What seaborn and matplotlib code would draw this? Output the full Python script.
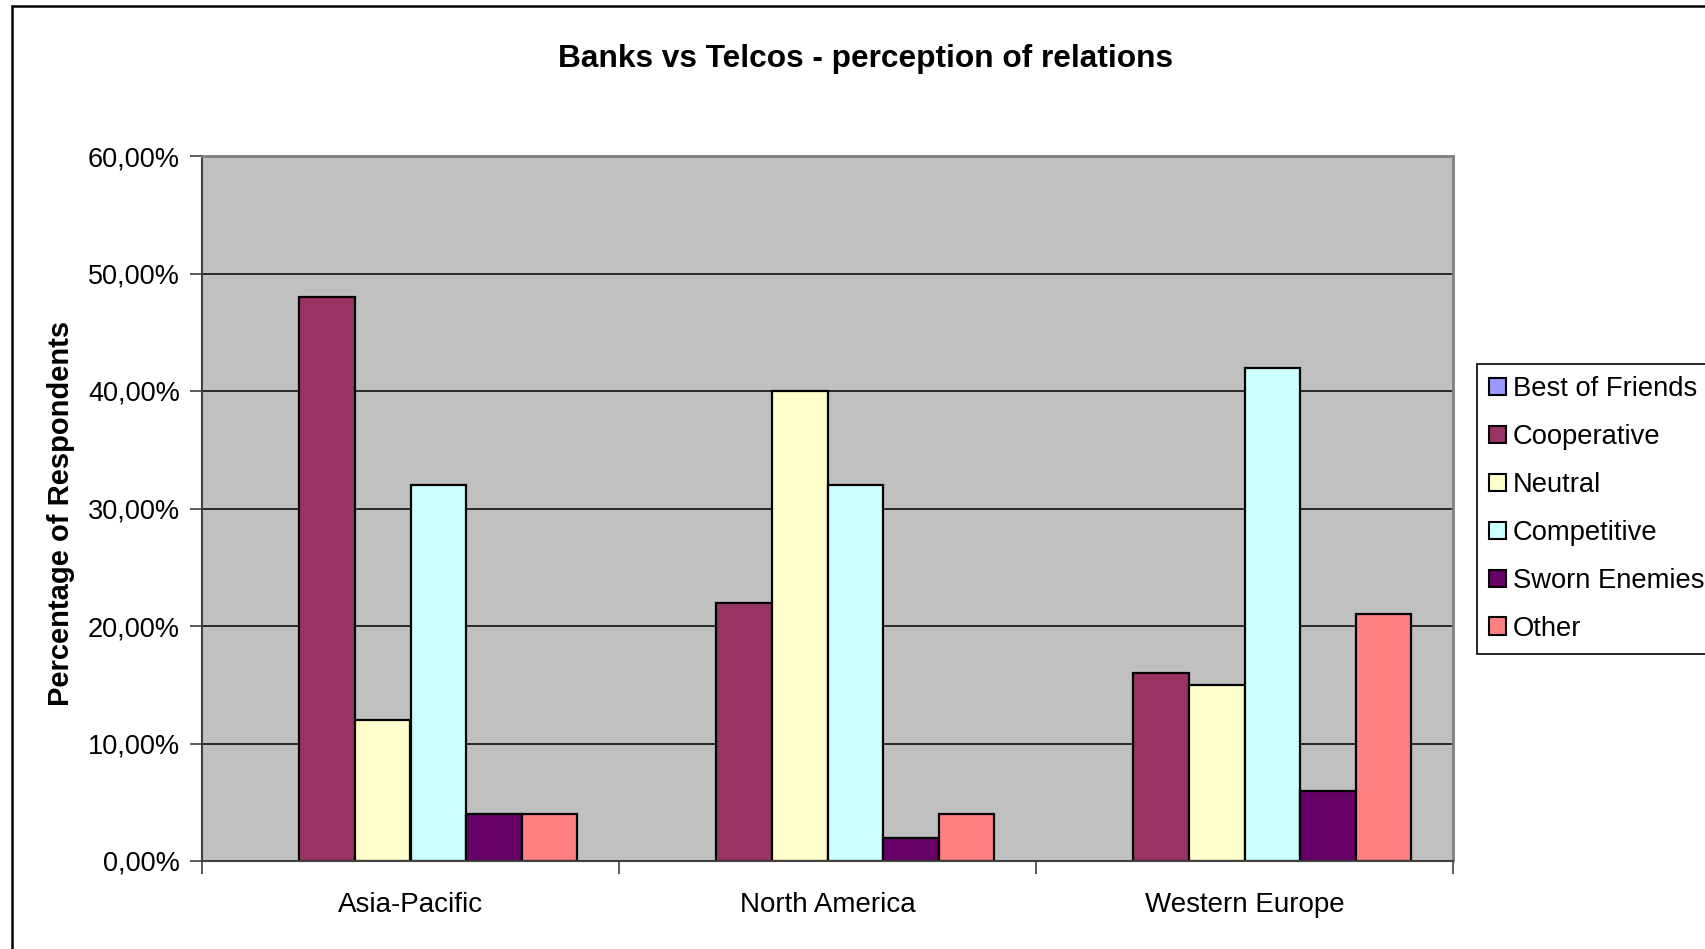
import pandas as pd
import seaborn as sns
import matplotlib.pyplot as plt
from matplotlib.patches import Patch, Rectangle
from matplotlib.ticker import FuncFormatter

# Chart data
regions = ["Asia-Pacific", "North America", "Western Europe"]
relations = ["Best of Friends", "Cooperative", "Neutral", "Competitive", "Sworn Enemies", "Other"]
best_of_friends = [0.00, 0.00, 0.00]
cooperative = [0.48, 0.22, 0.16]
neutral = [0.12, 0.40, 0.15]
competitive = [0.32, 0.32, 0.42]
sworn_enemies = [0.04, 0.02, 0.06]
other = [0.04, 0.04, 0.21]
colors = ["#9999FF", "#993366", "#FFFFCC", "#CCFFFF", "#660066", "#FF8080"]
y_ticks = [0.0, 0.1, 0.2, 0.3, 0.4, 0.5, 0.6]

series = [best_of_friends, cooperative, neutral, competitive, sworn_enemies, other]
rows = []
for rel, vals in zip(relations, series):
    for reg, v in zip(regions, vals):
        rows.append({"region": reg, "relation": rel, "share": v})
df = pd.DataFrame(rows)

plt.rcParams["font.family"] = ["Liberation Sans", "DejaVu Sans"]

fig = plt.figure(figsize=(17.06, 9.49), dpi=100)
ax = fig.add_axes([202 / 1706, 1 - 861 / 949, 1251 / 1706, 705 / 949])

sns.barplot(
    data=df, x="region", y="share", hue="relation",
    order=regions, hue_order=relations, palette=colors,
    errorbar=None, width=0.8, gap=0, saturation=1,
    edgecolor="black", linewidth=1.6, legend=False, ax=ax
)

# hide outlines of empty bars
for p in ax.patches:
    if p.get_height() == 0:
        p.set_linewidth(0)

ax.set_facecolor("#C0C0C0")
ax.set_ylim(0, 0.6)
ax.set_xlim(-0.5, 2.5)
ax.set_yticks(y_ticks)
ax.yaxis.set_major_formatter(FuncFormatter(lambda v, _: f"{v * 100:.2f}%".replace(".", ",")))
ax.yaxis.grid(True, color="black", linewidth=1.1)
ax.set_axisbelow(True)

ax.set_xlabel("")
ax.set_ylabel("")
ax.tick_params(axis="y", length=9, width=1.2, color="#404040", pad=7, labelsize=19.5)
ax.tick_params(axis="x", which="major", length=0, pad=22, labelsize=20)
ax.set_xticks([-0.5, 0.5, 1.5, 2.5], minor=True)
ax.tick_params(axis="x", which="minor", length=9, width=1.2, color="#404040")

for side in ["left", "bottom"]:
    ax.spines[side].set_color("#404040")
    ax.spines[side].set_linewidth(1.5)
for side in ["top", "right"]:
    ax.spines[side].set_color("#808080")
    ax.spines[side].set_linewidth(2)

fig.text(866 / 1706, 1 - 59 / 949, "Banks vs Telcos - perception of relations",
         ha="center", va="center", fontsize=22.8, fontweight="bold")
fig.text(61 / 1706, 1 - 513 / 949, "Percentage of Respondents",
         ha="center", va="center", rotation=90, fontsize=21, fontweight="bold")

handles = [Patch(facecolor=c, edgecolor="black", linewidth=1.5) for c in colors]
leg = fig.legend(
    handles, relations, loc="upper left",
    bbox_to_anchor=(1477 / 1706, 1 - 364 / 949),
    fontsize=19.7, frameon=True, fancybox=False, framealpha=1,
    handlelength=0.6, handleheight=0.6, handletextpad=0.25,
    labelspacing=0.8, borderpad=0.45, borderaxespad=0
)
leg.get_frame().set_edgecolor("black")
leg.get_frame().set_linewidth(1.2)

# outer chart frame
fig.add_artist(Rectangle((12 / 1706, -0.05), 1.1, 1 - 6 / 949 + 0.05,
                         transform=fig.transFigure, fill=False,
                         edgecolor="black", linewidth=1.8))

fig.savefig("out.png", dpi=100)
